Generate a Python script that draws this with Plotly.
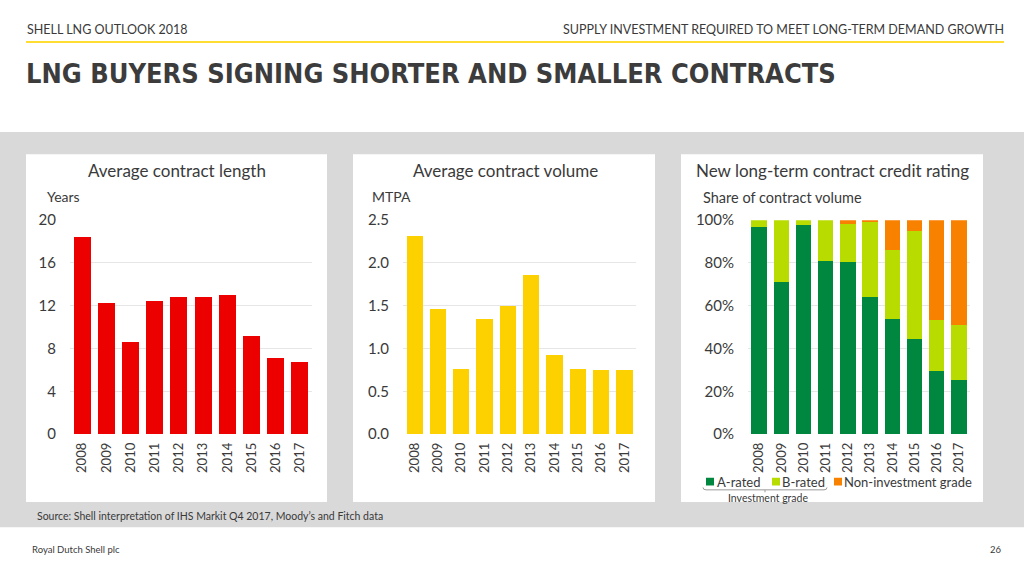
import plotly.graph_objects as go

# ---------------- data ----------------
years = ["2008", "2009", "2010", "2011", "2012", "2013", "2014", "2015", "2016", "2017"]
contract_length = [18.4, 12.3, 8.6, 12.4, 12.8, 12.85, 13.0, 9.2, 7.1, 6.7]
contract_volume = [2.31, 1.46, 0.76, 1.34, 1.50, 1.86, 0.92, 0.76, 0.75, 0.75]
a_rated = [96.8, 71.1, 97.6, 80.9, 80.5, 63.9, 54.0, 44.4, 29.3, 25.4]
b_rated = [3.2, 28.9, 2.4, 19.1, 17.8, 35.3, 32.0, 50.5, 24.1, 25.4]
non_investment = [0.0, 0.0, 0.0, 0.0, 1.7, 0.8, 14.0, 5.1, 46.6, 49.2]

series_names = ["A-rated", "B-rated", "Non-investment grade"]
len_ticks = [0, 4, 8, 12, 16, 20]
vol_ticks = [0, 0.5, 1.0, 1.5, 2.0, 2.5]
vol_ticklabels = ["0.0", "0.5", "1.0", "1.5", "2.0", "2.5"]
pct_ticks = [0, 20, 40, 60, 80, 100]
pct_ticklabels = ["0%", "20%", "40%", "60%", "80%", "100%"]

# ---------------- style ----------------
W, H = 1024, 570
RED = "#EC0000"
YELLOW = "#FDD000"
GREEN = "#00873F"
LIME = "#B8DC00"
ORANGE = "#F98100"
GRAY_BAND = "#D9D9D9"
TXT = "#3A3A3A"
GRID = "#E6E6E6"
FONT = "Lato, 'Open Sans', sans-serif"
TITLE_FONT = "'Liberation Sans Narrow', 'DejaVu Sans Condensed', 'Liberation Sans', sans-serif"


def px(x):
    return x / W


def py(y):
    return 1 - y / H


fig = go.Figure()

fig.add_trace(go.Bar(x=years, y=contract_length, marker=dict(color=RED, line=dict(width=0)),
                     xaxis="x", yaxis="y", showlegend=False, name="Average contract length"))
fig.add_trace(go.Bar(x=years, y=contract_volume, marker=dict(color=YELLOW, line=dict(width=0)),
                     xaxis="x2", yaxis="y2", showlegend=False, name="Average contract volume"))
for vals, col, nm in zip([a_rated, b_rated, non_investment], [GREEN, LIME, ORANGE], series_names):
    fig.add_trace(go.Bar(x=years, y=vals, marker=dict(color=col, line=dict(width=0)),
                         xaxis="x3", yaxis="y3", showlegend=False, name=nm))

y_dom = [py(438), py(217)]
common_x = dict(type="category", tickangle=-90, tickfont=dict(family=FONT, size=13, color=TXT),
                showgrid=False, zeroline=False, showline=False, ticks="", ticklabelstandoff=5,
                fixedrange=True)
common_y = dict(tickfont=dict(family=FONT, size=15, color=TXT), showgrid=True, gridcolor=GRID,
                gridwidth=1, zeroline=False, showline=False, ticks="", ticklabelstandoff=13,
                fixedrange=True)

fig.update_layout(
    width=W, height=H,
    margin=dict(l=0, r=0, t=0, b=0),
    paper_bgcolor="white",
    plot_bgcolor="rgba(0,0,0,0)",
    barmode="stack",
    bargap=0.3,
    showlegend=False,
    xaxis=dict(domain=[px(70), px(312)], anchor="y", **common_x),
    yaxis=dict(domain=y_dom, anchor="x", range=[0, 20], tickvals=len_ticks, **common_y),
    xaxis2=dict(domain=[px(403), px(636)], anchor="y2", **common_x),
    yaxis2=dict(domain=y_dom, anchor="x2", range=[0, 2.5], tickvals=vol_ticks,
                ticktext=vol_ticklabels, **common_y),
    xaxis3=dict(domain=[px(748), px(970)], anchor="y3", **common_x),
    yaxis3=dict(domain=y_dom, anchor="x3", range=[0, 100], tickvals=pct_ticks,
                ticktext=pct_ticklabels, **common_y),
)

shapes = [
    # grey band
    dict(type="rect", xref="paper", yref="paper", x0=0, x1=1, y0=py(534), y1=py(126),
         fillcolor=GRAY_BAND, line=dict(width=0), layer="below"),
    # white panels
    dict(type="rect", xref="paper", yref="paper", x0=px(26), x1=px(327), y0=py(508), y1=py(149),
         fillcolor="white", line=dict(width=0), layer="below"),
    dict(type="rect", xref="paper", yref="paper", x0=px(353), x1=px(655), y0=py(508), y1=py(149),
         fillcolor="white", line=dict(width=0), layer="below"),
    dict(type="rect", xref="paper", yref="paper", x0=px(681), x1=px(983), y0=py(508), y1=py(149),
         fillcolor="white", line=dict(width=0), layer="below"),
    # yellow header rule
    dict(type="line", xref="paper", yref="paper", x0=px(26), x1=px(1004), y0=py(33), y1=py(33),
         line=dict(color="#FFDD33", width=2)),
    # legend squares
    dict(type="rect", xref="paper", yref="paper", x0=px(706), x1=px(714), y0=py(491), y1=py(483),
         fillcolor=GREEN, line=dict(width=0)),
    dict(type="rect", xref="paper", yref="paper", x0=px(772), x1=px(780), y0=py(491), y1=py(483),
         fillcolor=LIME, line=dict(width=0)),
    dict(type="rect", xref="paper", yref="paper", x0=px(834), x1=px(842), y0=py(491), y1=py(483),
         fillcolor=ORANGE, line=dict(width=0)),
]
# investment-grade bracket
bx0, bx1, bxm, by, byt = 703, 827, 765, 495.5, 493
path = (f"M {px(bx0)} {py(byt)} Q {px(bx0)} {py(by)} {px(bx0 + 3)} {py(by)} "
        f"L {px(bx1 - 3)} {py(by)} Q {px(bx1)} {py(by)} {px(bx1)} {py(byt)} "
        f"M {px(bxm)} {py(by)} L {px(bxm)} {py(by + 2.5)}")
shapes.append(dict(type="path", xref="paper", yref="paper", path=path,
                   line=dict(color="#9A9A9A", width=1)))
fig.update_layout(shapes=shapes)


def ann(text, x, y, size, xanchor="left", family=FONT, color=TXT, yanchor="middle"):
    return dict(text=text, x=px(x), y=py(y), xref="paper", yref="paper", showarrow=False,
                xanchor=xanchor, yanchor=yanchor, font=dict(family=family, size=size, color=color))


annotations = [
    ann("SHELL LNG OUTLOOK 2018", 25, 20, 12.5),
    ann("SUPPLY INVESTMENT REQUIRED TO MEET LONG-TERM DEMAND GROWTH", 1006, 20, 12.5, xanchor="right"),
    ann("<b>LNG BUYERS SIGNING SHORTER AND SMALLER CONTRACTS</b>", 24, 66, 27,
        family=TITLE_FONT, color="#3C3C3C"),
    ann("Average contract length", 177, 166, 17, xanchor="center"),
    ann("Average contract volume", 505, 166, 17, xanchor="center"),
    ann("New long-term contract credit rating", 832, 166, 17, xanchor="center"),
    ann("Years", 45, 193, 14),
    ann("MTPA", 370, 193, 14),
    ann("Share of contract volume", 701, 194, 14.5),
    ann(series_names[0], 715, 487, 13),
    ann(series_names[1], 780, 487, 13),
    ann(series_names[2], 842, 487, 13),
    ann("Investment grade", 768, 504, 10.5, xanchor="center"),
    ann("Source: Shell interpretation of IHS Markit Q4 2017, Moody\u2019s and Fitch data", 35, 522, 10.5),
    ann("Royal Dutch Shell plc", 30, 557, 9.5),
    ann("26", 1004, 557, 9.5, xanchor="right"),
]
fig.update_layout(annotations=annotations)

fig.write_html("out.html", config={"displayModeBar": False},
               post_script="document.body.style.margin='0';document.body.style.overflow='hidden';")
